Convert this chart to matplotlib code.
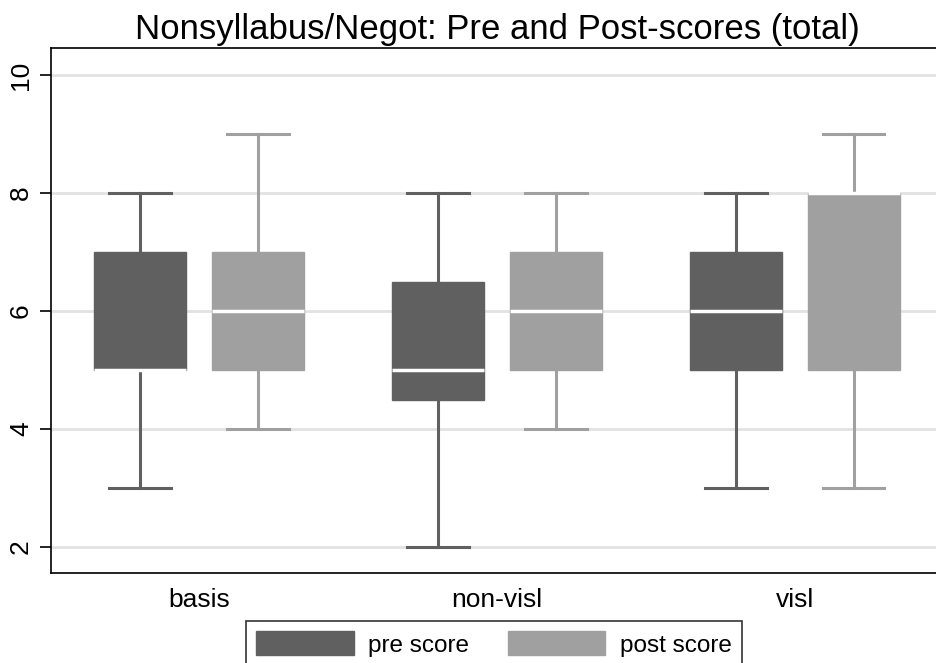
import matplotlib
matplotlib.use("Agg")
import matplotlib.pyplot as plt
from matplotlib.patches import Patch

plt.rcParams["font.family"] = ["Liberation Sans", "DejaVu Sans"]

groups = ["basis", "non-visl", "visl"]
series = ["pre score", "post score"]

# box stats: [basis, non-visl, visl]
pre_low = [3, 2, 3]
pre_q1 = [5, 4.5, 5]
pre_med = [5, 5, 6]
pre_q3 = [7, 6.5, 7]
pre_high = [8, 8, 8]

post_low = [4, 4, 3]
post_q1 = [5, 5, 5]
post_med = [6, 6, 8]
post_q3 = [7, 7, 8]
post_high = [9, 8, 9]

yticks = [2, 4, 6, 8, 10]

colors = ["#606060", "#a0a0a0"]


def make_stats(low, q1, med, q3, high):
    return [dict(whislo=a, q1=b, med=c, q3=d, whishi=e, fliers=[])
            for a, b, c, d, e in zip(low, q1, med, q3, high)]


fig = plt.figure(figsize=(9.36, 6.63), dpi=100)
ax = fig.add_axes([51 / 936, 1 - 573 / 663, 1 - 51 / 936, (573 - 48) / 663])

ax.set_ylim(1.56, 10.46)
ax.set_xlim(-0.497, 2.475)
for y in yticks:
    ax.axhline(y, color="#e2e2e2", lw=2, zorder=0)

offset = 0.198
all_stats = [make_stats(pre_low, pre_q1, pre_med, pre_q3, pre_high),
             make_stats(post_low, post_q1, post_med, post_q3, post_high)]
for i, (stats, col) in enumerate(zip(all_stats, colors)):
    pos = [g + (-offset if i == 0 else offset) for g in range(len(groups))]
    ax.bxp(stats, positions=pos, widths=0.309, capwidths=0.208,
           showfliers=False, patch_artist=True,
           boxprops=dict(facecolor=col, edgecolor=col, lw=1),
           whiskerprops=dict(color=col, lw=2.2),
           capprops=dict(color=col, lw=2.2),
           medianprops=dict(color="white", lw=2.5),
           manage_ticks=False)

ax.set_xticks(range(len(groups)))
ax.set_xticklabels(groups, fontsize=19)
ax.tick_params(axis="x", length=0, pad=11)
ax.set_yticks(yticks)
ax.set_yticklabels([str(v) for v in yticks], fontsize=19, rotation=90, va="center")
ax.tick_params(axis="y", length=8, width=1.2, pad=5)
ax.spines["right"].set_visible(False)
for s in ["left", "top", "bottom"]:
    ax.spines[s].set_linewidth(1.2)

fig.text(497 / 936, 1 - 39 / 663, "Nonsyllabus/Negot: Pre and Post-scores (total)",
         ha="center", va="baseline", fontsize=25)

handles = [Patch(facecolor=c, edgecolor=c) for c in colors]
leg = fig.legend(handles, series, loc="upper center", ncol=2,
                 bbox_to_anchor=(494 / 936, 1 - 621 / 663), fontsize=17.5,
                 frameon=True, fancybox=False, edgecolor="black",
                 handlelength=4.0, handleheight=1.15, handletextpad=0.6,
                 columnspacing=1.6, borderpad=0.42, borderaxespad=0)
leg.get_frame().set_linewidth(1.2)

fig.savefig("out.png", dpi=100)
